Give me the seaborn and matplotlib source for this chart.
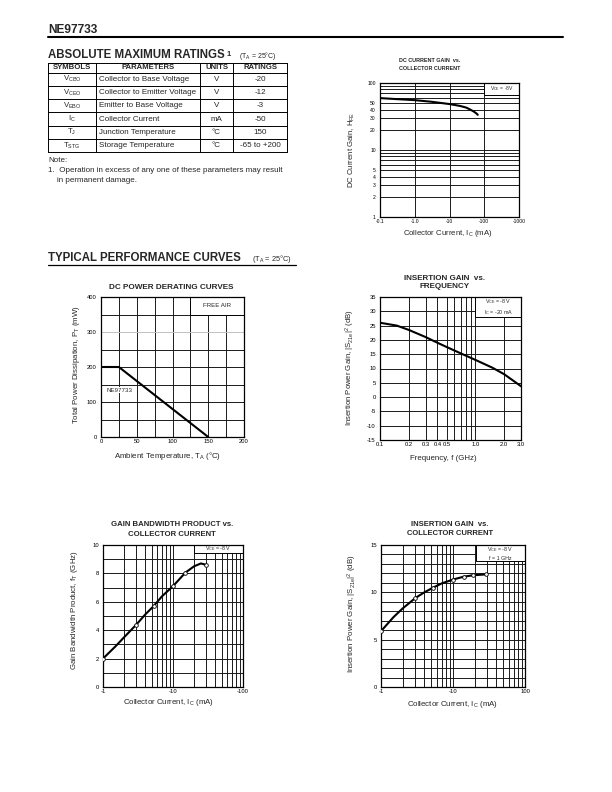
import matplotlib
matplotlib.use("Agg")
import matplotlib.pyplot as plt
from matplotlib.patches import Rectangle
from matplotlib.ticker import NullFormatter
import seaborn as sns

# ---- values
table_symbols = [r"V$_{CBO}$", r"V$_{CEO}$", r"V$_{EBO}$", r"I$_C$", r"T$_J$", r"T$_{STG}$"]
table_params = ["Collector to Base Voltage", "Collector to Emitter Voltage",
                "Emitter to Base Voltage", "Collector Current",
                "Junction Temperature", "Storage Temperature"]
table_units = ["V", "V", "V", "mA", "°C", "°C"]
table_ratings = ["-20", "-12", "-3", "-50", "150", "-65 to +200"]

# DC current gain vs collector current (Ic shown as negative on the axis)
hfe_ic = [0.1, 0.3, 1, 3, 10, 20, 30, 40, 50, 60, 65]
hfe = [59.5, 57.5, 55.5, 52.5, 48.5, 45.5, 43, 40, 37.5, 35, 33.5]

# DC power derating
derate_temp = [0, 25, 150]
derate_power = [200, 200, 0]

# insertion gain vs frequency
freq_ghz = [0.1, 0.15, 0.2, 0.3, 0.4, 0.5, 0.7, 1.0, 1.5, 2.0, 3.0]
s21_freq = [26, 25, 23.5, 21, 19, 17.5, 15.3, 13, 10.3, 8, 3.8]

# gain bandwidth product vs collector current
ft_ic = [1, 1.5, 2, 3, 4, 5.3, 7, 10, 15, 20, 25, 30]
ft = [2.0, 2.85, 3.5, 4.4, 5.1, 5.7, 6.4, 7.1, 8.05, 8.5, 8.7, 8.6]
ft_pts_ic = [1, 3, 5.3, 10, 15, 30]
ft_pts = [2.0, 4.4, 5.7, 7.1, 8.05, 8.6]

# insertion gain vs collector current
s21_ic = [1, 1.5, 2, 3, 4, 5.3, 7, 10, 14, 19, 29]
s21 = [5.9, 7.4, 8.3, 9.4, 10.0, 10.5, 10.95, 11.35, 11.65, 11.8, 11.9]
s21_pts_ic = [1, 3, 5.3, 10, 14, 19, 29]
s21_pts = [5.9, 9.4, 10.5, 11.35, 11.65, 11.8, 11.9]

sns.set_style("white")
plt.rcParams["font.family"] = ["Liberation Sans", "DejaVu Sans"]
plt.rcParams["mathtext.fontset"] = "custom"
plt.rcParams["mathtext.rm"] = "Liberation Sans"
plt.rcParams["mathtext.it"] = "Liberation Sans:italic"
plt.rcParams["mathtext.bf"] = "Liberation Sans:bold"
plt.rcParams["mathtext.default"] = "regular"

W, H = 612, 792
fig = plt.figure(figsize=(W / 100, H / 100), dpi=100)

# page layer in pixel coordinates for the text parts
page = fig.add_axes([0, 0, 1, 1])
page.set_xlim(0, W)
page.set_ylim(H, 0)
page.axis("off")


def px_axes(x0, y0, x1, y1):
    return fig.add_axes([x0 / W, 1 - y1 / H, (x1 - x0) / W, (y1 - y0) / H])


def style(ax, fs):
    for s in ax.spines.values():
        s.set_visible(True)
        s.set_color("black")
        s.set_linewidth(0.9)
    ax.tick_params(which="both", length=0, labelsize=fs, colors="black")
    ax.tick_params(axis="y", pad=3)
    ax.tick_params(axis="x", pad=1.5)
    ax.set_axisbelow(True)
    ax.xaxis.set_minor_formatter(NullFormatter())
    ax.yaxis.set_minor_formatter(NullFormatter())


def box(ax, x, y, w, h):
    ax.add_patch(Rectangle((x, y), w, h, facecolor="white", edgecolor="black",
                           lw=0.7, zorder=2))


grid_kw = dict(color="#1a1a1a", lw=0.7)
line_kw = dict(color="black", lw=1.5, zorder=4)
dot_kw = dict(marker="o", s=7, facecolor="white", edgecolor="black", linewidth=0.6, zorder=5)

# ---- header
page.text(48, 33, "NE97733", fontsize=8.6, fontweight="bold", va="baseline")
page.plot([48, 563], [37, 37], color="black", lw=1.5)

page.text(48, 58, "ABSOLUTE MAXIMUM RATINGS", fontsize=8.3, fontweight="bold", va="baseline")
page.text(226.5, 55.5, "1", fontsize=5.5, fontweight="bold", va="baseline")
page.text(239, 57.5, r"(T$_A$ = 25°C)", fontsize=5, va="baseline")

# ---- ratings table
col_x = [48, 96, 200, 233, 287]
row_y = [62.5, 72.5, 85.8, 99.1, 112.4, 125.7, 139, 152.3]
for yy in row_y:
    page.plot([col_x[0], col_x[-1]], [yy, yy], color="black", lw=0.7)
for xx in col_x:
    page.plot([xx, xx], [row_y[0], row_y[-1]], color="black", lw=0.7)
heads = ["SYMBOLS", "PARAMETERS", "UNITS", "RATINGS"]
for i, h in enumerate(heads):
    page.text((col_x[i] + col_x[i + 1]) / 2, (row_y[0] + row_y[1]) / 2 + 0.3, h,
              fontsize=5.6, fontweight="bold", ha="center", va="center")
for r in range(6):
    yc = (row_y[r + 1] + row_y[r + 2]) / 2
    page.text((col_x[0] + col_x[1]) / 2, yc, table_symbols[r], fontsize=5.6, ha="center", va="center")
    page.text(col_x[1] + 3, yc, table_params[r], fontsize=5.8, ha="left", va="center")
    page.text((col_x[2] + col_x[3]) / 2, yc, table_units[r], fontsize=5.8, ha="center", va="center")
    page.text((col_x[3] + col_x[4]) / 2, yc, table_ratings[r], fontsize=5.8, ha="center", va="center")

page.text(48, 160, "Note:", fontsize=5.8, va="center")
page.text(48, 171, "1.  Operation in excess of any one of these parameters may result",
          fontsize=5.8, va="center")
page.text(57, 180, "in permanent damage.", fontsize=5.8, va="center")

page.text(48, 261, "TYPICAL PERFORMANCE CURVES", fontsize=8.3, fontweight="bold", va="baseline")
page.text(252, 261, r"(T$_A$ = 25°C)", fontsize=5.3, va="baseline")
page.plot([48, 296], [264.5, 264.5], color="black", lw=0.9)

# ---- DC current gain vs collector current
ax1 = px_axes(380, 83, 519, 217)
sns.lineplot(x=hfe_ic, y=hfe, ax=ax1, **line_kw)
ax1.set(xscale="log", yscale="log", xlim=(0.1, 1000), ylim=(1, 100), xlabel="", ylabel="")
style(ax1, 3.6)
ax1.set_xticks([0.1, 1, 10, 100, 1000], ["-0.1", "-1.0", "-10", "-100", "-1000"])
ax1.set_xticks([], minor=True)
ax1.set_yticks([1, 2, 3, 4, 5, 10, 20, 30, 40, 50, 100],
               ["1", "2", "3", "4", "5", "10", "20", "30", "40", "50", "100"])
ax1.set_yticks([6, 7, 8, 9, 60, 70, 80, 90], minor=True)
ax1.yaxis.set_minor_formatter(NullFormatter())
ax1.xaxis.grid(True, which="major", **grid_kw)
ax1.yaxis.grid(True, which="both", **grid_kw)
box(ax1, 100, 67, 900, 33)
ax1.text(316, 82, r"V$_{CE}$ = -8V", fontsize=3.6, ha="center", va="center", zorder=3)
page.text(430, 60, "DC CURRENT GAIN  vs.", fontsize=3.9, fontweight="bold", ha="center", va="center")
page.text(430, 69, "COLLECTOR CURRENT", fontsize=3.9, fontweight="bold", ha="center", va="center")
page.text(352, 150, r"DC Current Gain, H$_{FE}$", fontsize=5.6, rotation=90, ha="center", va="center")
page.text(448, 233.5, r"Collector Current, I$_C$ (mA)", fontsize=5.6, ha="center", va="center")

# ---- DC power derating curves
ax2 = px_axes(101, 297, 244, 437)
sns.lineplot(x=derate_temp, y=derate_power, ax=ax2, **line_kw)
ax2.set(xlim=(0, 200), ylim=(0, 400), xlabel="", ylabel="")
style(ax2, 4.2)
ax2.set_xticks([0, 50, 100, 150, 200], ["0", "50", "100", "150", "200"])
ax2.set_xticks([25, 75, 125, 175], minor=True)
ax2.set_yticks([0, 100, 200, 300, 400], ["0", "100", "200", "300", "400"])
ax2.set_yticks([50, 150, 250, 350], minor=True)
ax2.grid(True, which="both", **grid_kw)
ax2.get_ygridlines()[3].set_color("#c0c0c0")
box(ax2, 125, 350, 75, 50)
ax2.text(162.5, 376, "FREE AIR", fontsize=4.4, ha="center", va="center", zorder=3)
ax2.text(8, 134, "NE97733", fontsize=4.4, ha="left", va="center", zorder=3,
         bbox=dict(facecolor="white", edgecolor="none", pad=0.6))
page.text(171, 287.5, "DC POWER DERATING CURVES", fontsize=5.9, fontweight="bold", ha="center", va="center")
page.text(76, 365, r"Total Power Dissipation, P$_T$ (mW)", fontsize=5.7, rotation=90,
          ha="center", va="center")
page.text(168, 455.5, r"Ambient Temperature, T$_A$ (°C)", fontsize=5.7, ha="center", va="center")

# ---- insertion gain vs frequency
ax3 = px_axes(380, 297, 521, 440)
sns.lineplot(x=freq_ghz, y=s21_freq, ax=ax3, **line_kw)
ax3.set(xscale="log", xlim=(0.1, 3.0), ylim=(-15, 35), xlabel="", ylabel="")
style(ax3, 4.2)
ax3.set_xticks([0.1, 0.2, 0.3, 0.4, 0.5, 1.0, 2.0, 3.0],
               ["0.1", "0.2", "0.3", "0.4", "0.5", "1.0", "2.0", "3.0"])
ax3.set_xticks([0.6, 0.7, 0.8, 0.9], minor=True)
ax3.xaxis.set_minor_formatter(NullFormatter())
ax3.set_yticks(list(range(-15, 36, 5)), [str(v) for v in range(-15, 36, 5)])
ax3.grid(True, which="both", **grid_kw)
box(ax3, 1.0, 28, 2.0, 7)
ax3.text(1.73, 31.5, "V$_{CE}$ = -8 V\nI$_C$ = -20 mA", fontsize=3.8, ha="center", va="center",
         zorder=3, linespacing=1.3)
page.text(445, 278.5, "INSERTION GAIN  vs.", fontsize=5.8, fontweight="bold", ha="center", va="center")
page.text(445, 287, "FREQUENCY", fontsize=5.8, fontweight="bold", ha="center", va="center")
page.text(350.5, 368, r"Insertion Power Gain, |S$_{21e}$|$^2$ (dB)", fontsize=5.6, rotation=90,
          ha="center", va="center")
page.text(443, 458, "Frequency, f (GHz)", fontsize=5.7, ha="center", va="center")

# ---- gain bandwidth product vs collector current
ax4 = px_axes(103, 545, 243, 687)
sns.lineplot(x=ft_ic, y=ft, ax=ax4, **line_kw)
sns.scatterplot(x=ft_pts_ic, y=ft_pts, ax=ax4, **dot_kw)
ax4.set(xscale="log", xlim=(1, 100), ylim=(0, 10), xlabel="", ylabel="")
style(ax4, 4.2)
ax4.set_xticks([1, 10, 100], ["-1", "-10", "-100"])
ax4.set_xticks([2, 3, 4, 5, 6, 7, 8, 9, 20, 30, 40, 50, 60, 70, 80, 90], minor=True)
ax4.xaxis.set_minor_formatter(NullFormatter())
ax4.set_yticks([0, 2, 4, 6, 8, 10], ["0", "2", "4", "6", "8", "10"])
ax4.set_yticks([1, 3, 5, 7, 9], minor=True)
ax4.grid(True, which="both", **grid_kw)
box(ax4, 20, 9.45, 80, 0.55)
ax4.text(44.7, 9.73, "V$_{CE}$ = -8 V", fontsize=3.8, ha="center", va="center", zorder=3)
page.text(172, 525, "GAIN BANDWIDTH PRODUCT vs.", fontsize=5.6, fontweight="bold", ha="center", va="center")
page.text(172, 535, "COLLECTOR CURRENT", fontsize=5.6, fontweight="bold", ha="center", va="center")
page.text(74, 610, r"Gain Bandwidth Product, f$_T$ (GHz)", fontsize=5.7, rotation=90,
          ha="center", va="center")
page.text(169, 703, r"Collector Current, I$_C$ (mA)", fontsize=5.7, ha="center", va="center")

# ---- insertion gain vs collector current
ax5 = px_axes(381, 545, 525, 687)
sns.lineplot(x=s21_ic, y=s21, ax=ax5, **line_kw)
sns.scatterplot(x=s21_pts_ic, y=s21_pts, ax=ax5, **dot_kw)
ax5.set(xscale="log", xlim=(1, 100), ylim=(0, 15), xlabel="", ylabel="")
style(ax5, 4.2)
ax5.set_xticks([1, 10, 100], ["-1", "-10", "100"])
ax5.set_xticks([2, 3, 4, 5, 6, 7, 8, 9, 20, 30, 40, 50, 60, 70, 80, 90], minor=True)
ax5.xaxis.set_minor_formatter(NullFormatter())
ax5.set_yticks([0, 5, 10, 15], ["0", "5", "10", "15"])
ax5.set_yticks([v for v in range(1, 15) if v % 5], minor=True)
ax5.grid(True, which="both", **grid_kw)
box(ax5, 21, 13.3, 79, 1.7)
ax5.text(45.8, 14.15, "V$_{CE}$ = -8 V\nf = 1 GHz", fontsize=3.8, ha="center", va="center",
         zorder=3, linespacing=1.3)
page.text(450, 524, "INSERTION GAIN  vs.", fontsize=5.5, fontweight="bold", ha="center", va="center")
page.text(450, 533.5, "COLLECTOR CURRENT", fontsize=5.5, fontweight="bold", ha="center", va="center")
page.text(352, 614, r"Insertion Power Gain, |S$_{21e}$|$^2$ (dB)", fontsize=5.7, rotation=90,
          ha="center", va="center")
page.text(453, 704, r"Collector Current, I$_C$ (mA)", fontsize=5.7, ha="center", va="center")

fig.savefig("out.png", dpi=100)
